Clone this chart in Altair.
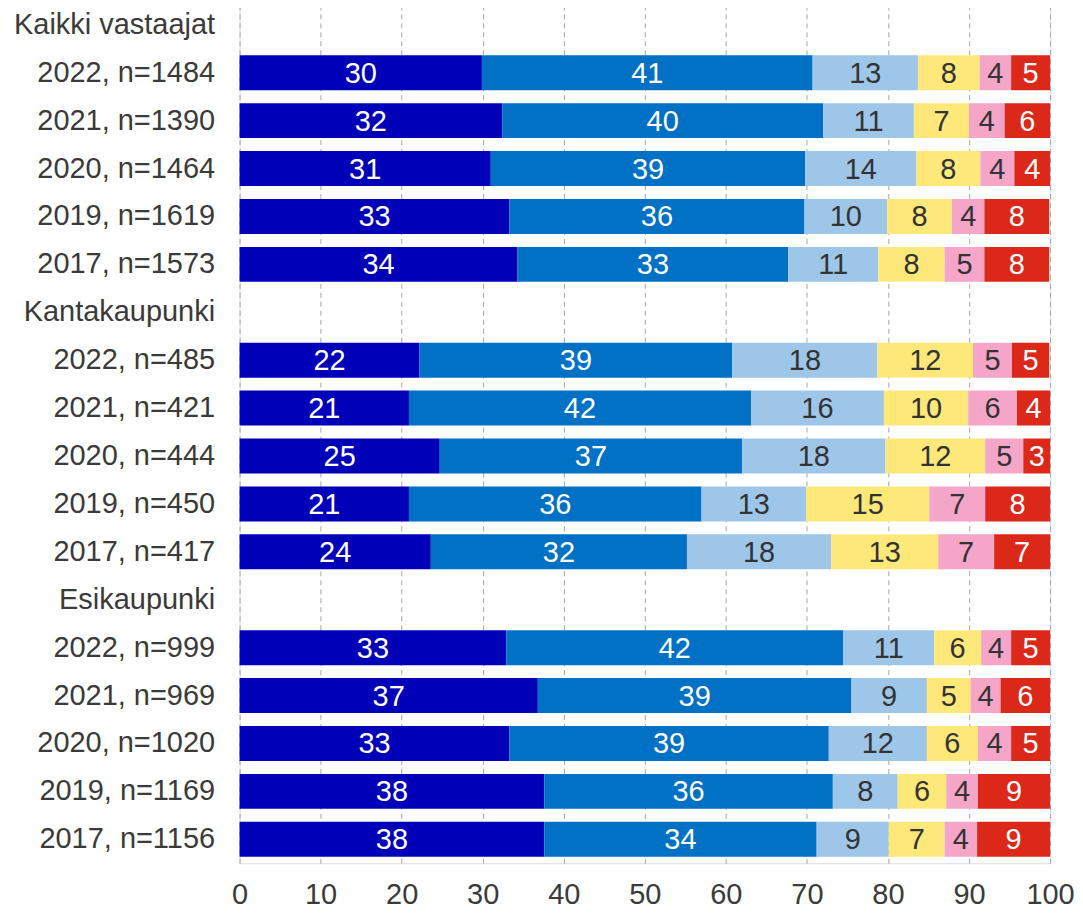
import altair as alt
import pandas as pd

rows = [
    "Kaikki vastaajat",
    "2022, n=1484", "2021, n=1390", "2020, n=1464", "2019, n=1619", "2017, n=1573",
    "Kantakaupunki",
    "2022, n=485", "2021, n=421", "2020, n=444", "2019, n=450", "2017, n=417",
    "Esikaupunki",
    "2022, n=999", "2021, n=969", "2020, n=1020", "2019, n=1169", "2017, n=1156",
]

bar_rows = [r for r in rows if "n=" in r]

# six answer categories, listed per row in the same order as bar_rows
s1 = [29.9, 32.4, 31.0, 33.3, 34.3, 22.2, 20.9, 24.7, 20.9, 23.6, 32.9, 36.8, 33.3, 37.6, 37.6]
s2 = [40.8, 39.6, 38.8, 36.4, 33.4, 38.6, 42.2, 37.3, 36.1, 31.6, 41.6, 38.7, 39.4, 35.6, 33.6]
s3 = [13.0, 11.2, 13.7, 10.2, 11.1, 17.9, 16.4, 17.7, 12.9, 17.8, 11.2, 9.3, 12.1, 8.0, 8.9]
s4 = [7.6, 6.8, 7.9, 8.0, 8.2, 11.8, 10.4, 12.3, 15.2, 13.2, 5.8, 5.4, 6.3, 6.0, 6.9]
s5 = [3.9, 4.4, 4.2, 4.0, 4.9, 4.8, 6.0, 4.7, 6.9, 6.9, 3.7, 3.7, 4.1, 3.9, 4.0]
s6 = [4.8, 5.6, 4.4, 8.0, 8.0, 4.6, 4.1, 3.3, 8.0, 6.9, 4.8, 6.1, 4.8, 8.9, 9.0]

series = [s1, s2, s3, s4, s5, s6]
colors = ["#0000B8", "#0071C5", "#9DC6E8", "#FFE87A", "#F4A5C8", "#DB2819"]
text_colors = ["#FFFFFF", "#FFFFFF", "#333333", "#333333", "#333333", "#FFFFFF"]

records = []
for k, s in enumerate(series):
    for r, v in zip(bar_rows, s):
        records.append({"row": r, "k": k, "value": v, "tc": text_colors[k]})
df = pd.DataFrame(records)

FONT = "Liberation Sans"

base = alt.Chart(df).transform_stack(
    stack="value", groupby=["row"], sort=[alt.SortField("k")], as_=["x0", "x1"]
).transform_calculate(mid="(datum.x0 + datum.x1) / 2")

yenc = alt.Y(
    "row:N",
    scale=alt.Scale(domain=rows, paddingInner=0.27, paddingOuter=0.135),
    axis=alt.Axis(
        title=None, ticks=False, domain=False, labelFontSize=29, labelFont=FONT,
        labelColor="#3A3A3A", labelPadding=25, labelLimit=0, labelAlign="right",
    ),
)

xscale = alt.Scale(domain=[0, 100], nice=False)

bars = base.mark_bar().encode(
    x=alt.X(
        "x0:Q", scale=xscale,
        axis=alt.Axis(
            title=None, values=list(range(0, 101, 10)), grid=True, gridDash=[5, 4],
            gridColor="#A6A6A6", gridWidth=1, domain=False, ticks=False,
            labelFontSize=29, labelFont=FONT, labelColor="#3A3A3A", labelPadding=17,
            labelFlush=False,
        ),
    ),
    x2="x1:Q",
    y=yenc,
    color=alt.Color("k:N", scale=alt.Scale(domain=list(range(6)), range=colors), legend=None),
)

labels = base.mark_text(fontSize=29, font=FONT, baseline="middle", align="center", dy=1).encode(
    x=alt.X("mid:Q", scale=xscale),
    y=alt.Y("row:N", scale=alt.Scale(domain=rows)),
    text=alt.Text("value:Q", format=".0f"),
    color=alt.Color("tc:N", scale=None),
)

chart = (
    alt.layer(bars, labels)
    .properties(width=812, height=864, padding={"left": 5, "top": -8, "right": 0, "bottom": 0})
    .configure_view(stroke=None)
    .configure(background="white")
)

chart.save("out.html", embed_options={"renderer": "svg", "actions": False})
